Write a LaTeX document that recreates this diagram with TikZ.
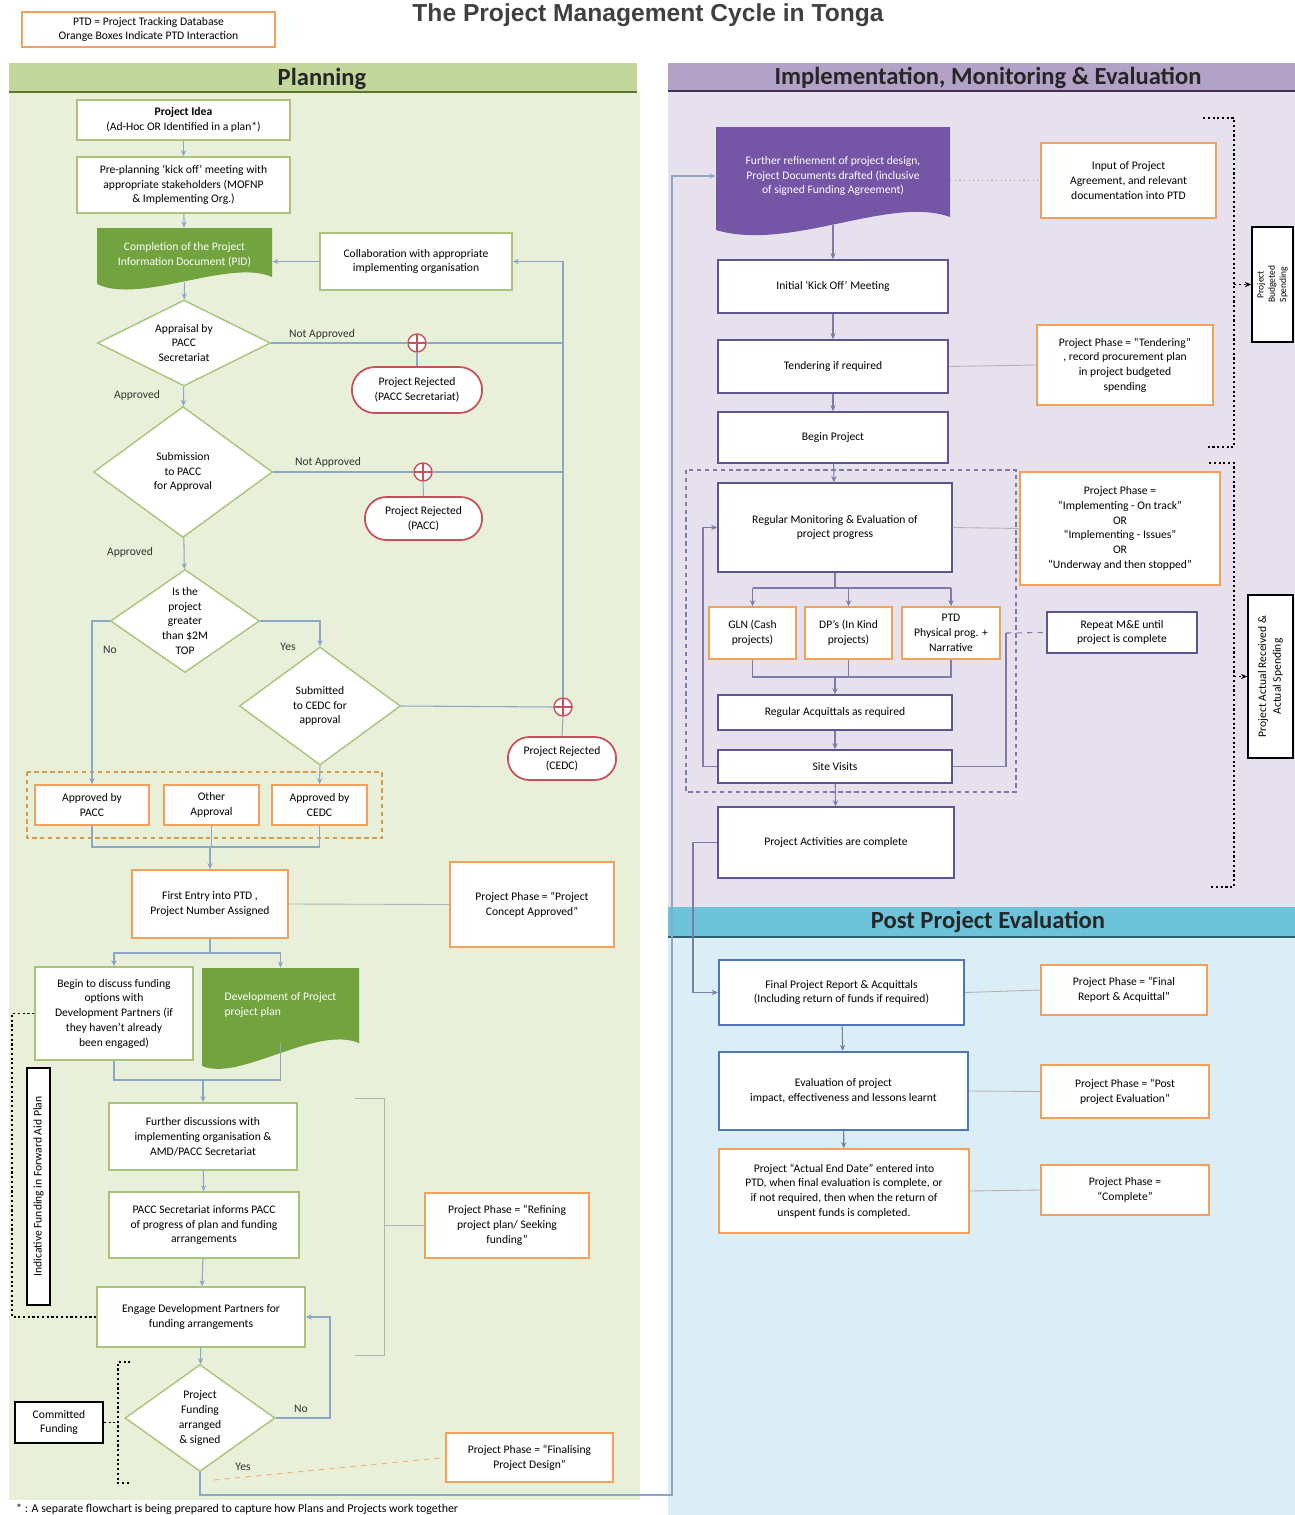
\documentclass[tikz,border=0pt]{standalone}
\usepackage{fontspec}
\setmainfont{Carlito}
\newfontfamily\titlefont{Liberation Sans}
\usetikzlibrary{shapes.geometric, shapes.misc, arrows.meta, positioning, calc}

\definecolor{plangreen}{HTML}{C3D69B}
\definecolor{planbg}{HTML}{E8F0DA}
\definecolor{planline}{HTML}{5E7530}
\definecolor{implpurple}{HTML}{B3A2C7}
\definecolor{implbg}{HTML}{E6E1ED}
\definecolor{implline}{HTML}{3F3151}
\definecolor{postcyan}{HTML}{6DC3DA}
\definecolor{postbg}{HTML}{DBEDF5}
\definecolor{postline}{HTML}{2B5F70}
\definecolor{boxgreen}{HTML}{A9C47A}
\definecolor{boxorange}{HTML}{F2A05A}
\definecolor{boxpurple}{HTML}{5E5590}
\definecolor{boxblue}{HTML}{4F76B8}
\definecolor{rejred}{HTML}{C8505A}
\definecolor{docgreen}{HTML}{72A33E}
\definecolor{docpurple}{HTML}{7455A6}
\definecolor{conn}{HTML}{8EA6C6}
\definecolor{connp}{HTML}{7C7CA8}
\definecolor{titlegray}{HTML}{404040}

\newcommand\boxfont{\fontsize{6.6}{8.4}\selectfont}
\newcommand\headfont{\fontsize{14}{16}\selectfont\bfseries}

\begin{document}
\begin{tikzpicture}[
  x=0.02cm, y=-0.02cm,
  sz/.style 2 args={minimum width=#1*0.02cm, minimum height=#2*0.02cm},
  gbox/.style={rectangle, draw=boxgreen, line width=0.8pt, fill=white,
               align=center, font=\boxfont, inner sep=2pt},
  obox/.style={gbox, draw=boxorange},
  pbox/.style={gbox, draw=boxpurple},
  bbox/.style={gbox, draw=boxblue, line width=1.3pt},
  kbox/.style={gbox, draw=black, line width=1pt},
  rej/.style={rounded rectangle, draw=rejred, line width=1pt, fill=white,
              align=center, font=\boxfont},
  dec/.style={diamond, draw=boxgreen, line width=0.8pt, fill=white,
              align=center, font=\boxfont, inner sep=0pt},
  plusc/.style={circle, draw=rejred, line width=0.8pt, fill=white,
                minimum size=0.36cm, inner sep=0pt,
                path picture={\draw[rejred, line width=0.8pt]
                  (path picture bounding box.north) -- (path picture bounding box.south)
                  (path picture bounding box.west) -- (path picture bounding box.east);}},
  doctext/.style={align=center, font=\boxfont, text=white, inner sep=0pt},
  hdr/.style={font=\headfont, text=black!85},
  lbl/.style={font=\boxfont, text=black!80},
  arr/.style={draw=conn, line width=0.6pt, -{Stealth[length=3.5pt,width=3pt]}},
  ln/.style={draw=conn, line width=0.6pt},
  parr/.style={arr, draw=connp},
  pln/.style={ln, draw=connp},
  phln/.style={draw=gray!60, line width=0.5pt},
  brk/.style={draw=black, line width=0.8pt, dash pattern=on 1.2pt off 1.5pt}
]

\useasboundingbox (0,0) rectangle (1295,1515);
\clip (0,0) rectangle (1295,1515);
\fill[white] (0,0) rectangle (1295,1515);

%% panels and header bands
\fill[planbg] (9,92) rectangle (640,1500);
\fill[plangreen] (9,63) rectangle (637,92);
\draw[planline, line width=1.2pt] (9,92) -- (637,92);
\fill[implbg] (668,91) rectangle (1295,907);
\fill[implpurple] (668,63) rectangle (1295,91);
\draw[implline, line width=1.2pt] (668,91) -- (1295,91);
\fill[postbg] (668,937) rectangle (1295,1515);
\fill[postcyan] (668,907) rectangle (1295,937);
\draw[postline, line width=1.2pt] (668,937) -- (1295,937);

%% title, legend, headers
\node[font=\titlefont\fontsize{14}{16}\selectfont\bfseries, text=titlegray] (title) at (648,15)
  {The Project Management Cycle in Tonga};
\node[obox, sz={253}{35}] (legend) at (148.5,29.5)
  {PTD = Project Tracking Database\\Orange Boxes Indicate PTD Interaction};
\node[hdr] (hplan) at (322,79) {Planning};
\node[hdr] (himpl) at (988,78) {Implementation, Monitoring \& Evaluation};
\node[hdr] (hpost) at (988,922) {Post Project Evaluation};

%% document shapes (filled first, text nodes on top)
\fill[docgreen] (97,228) -- (272,228) -- (272,277) .. controls (230,258) and (140,305) .. (97,284) -- cycle;
\fill[docgreen] (202,968) -- (359,968) -- (359,1043) .. controls (315,1025) and (240,1082) .. (202,1066) -- cycle;
\fill[docpurple] (716,127) -- (950,127) -- (950,217) .. controls (890,195) and (790,252) .. (716,230) -- cycle;

%% dashed groups
\draw[boxorange!80!olive, line width=0.7pt, dash pattern=on 2.5pt off 2pt] (27,772) rectangle (382,838);
\draw[connp, line width=0.8pt, dash pattern=on 2.5pt off 2pt] (686,470) rectangle (1016,792);

%% Planning nodes
\node[gbox, sz={213}{40}] (idea) at (183.5,120) {\textbf{Project Idea}\\(Ad-Hoc OR Identified in a plan*)};
\node[gbox, sz={213}{56}] (prep) at (183.5,185)
  {Pre-planning `kick off' meeting with\\appropriate stakeholders (MOFNP\\\& Implementing Org.)};
\node[doctext, sz={175}{54}] (pid) at (184.5,255) {Completion of the Project\\Information Document (PID)};
\node[gbox, sz={192}{57}] (collab) at (416,261.5) {Collaboration with appropriate\\implementing organisation};

\node[dec, aspect=2, sz={173}{86}] (d1) at (184,343) {Appraisal by\\PACC\\Secretariat};
\node[lbl] (na1) at (322,334) {Not Approved};
\node[plusc] (p1) at (417,343) {};
\node[rej, sz={142}{46}] (rej1) at (417,390) {Project Rejected\\(PACC Secretariat)};
\node[lbl] (ap1) at (137,395) {Approved};

\node[dec, aspect=1.5, sz={179}{131}] (d2) at (183,472) {Submission\\to PACC\\for Approval};
\node[lbl] (na2) at (328,462) {Not Approved};
\node[plusc] (p2) at (423,472) {};
\node[rej, sz={129}{43}] (rej2) at (423.5,518.5) {Project Rejected\\(PACC)};
\node[lbl] (ap2) at (130,552) {Approved};

\node[dec, aspect=1.4, sz={149}{103}] (d3) at (185,621) {Is the\\project\\greater\\than \$2M\\TOP};
\node[lbl] (no1) at (110,650) {No};
\node[lbl] (yes1) at (288,647) {Yes};
\node[dec, aspect=1.5, sz={161}{118}] (d4) at (320,706) {Submitted\\to CEDC for\\approval};
\node[plusc] (p3) at (563,707) {};
\node[rej, sz={120}{43}] (rej3) at (562,758.5) {Project Rejected\\(CEDC)};

\node[obox, sz={114}{40}] (apacc) at (92,805) {Approved by\\PACC};
\node[obox, sz={95}{40}] (aoth) at (211.5,805) {Other\\Approval};
\node[obox, sz={95}{40}] (acedc) at (319.5,805) {Approved by\\CEDC};
\coordinate (join1) at (210,847);

\node[obox, sz={156}{68}] (entry) at (210,904) {First Entry into PTD ,\\Project Number Assigned};
\node[obox, sz={164}{85}] (ph1) at (532,904.5) {Project Phase = ``Project\\Concept Approved''};
\coordinate (split1) at (210,953);

\node[gbox, sz={158}{93}] (begin) at (114,1013.5)
  {Begin to discuss funding\\options with\\Development Partners (if\\they haven't already\\been engaged)};
\node[doctext, align=left, sz={157}{74}] (devdoc) at (280.5,1005) {Development of Project\\project plan};
\coordinate (join2) at (203,1080);

\node[gbox, sz={188}{67}] (further) at (203,1136.5)
  {Further discussions with\\implementing organisation \&\\AMD/PACC Secretariat};
\node[gbox, sz={190}{66}] (informs) at (204,1225)
  {PACC Secretariat informs PACC\\of progress of plan and funding\\arrangements};
\node[gbox, sz={208}{60}] (engage) at (201,1317) {Engage Development Partners for\\funding arrangements};
\node[dec, aspect=1.4, sz={150}{107}] (d5) at (200,1418) {Project\\Funding\\arranged\\\& signed};
\node[lbl] (no2) at (301,1409) {No};
\node[lbl] (yes2) at (243,1467) {Yes};
\coordinate (nobend) at (330,1317);

\node[obox, sz={164}{65}] (refine) at (507,1225.5) {Project Phase = ``Refining\\project plan/ Seeking\\funding''};
\node[obox, sz={167}{49}] (finph) at (529.5,1457.5) {Project Phase = ``Finalising\\Project Design''};
\coordinate (rbtop) at (384,1098);
\coordinate (rbbot) at (384,1355);

\node[kbox, rotate=90, sz={237}{23}, inner sep=1pt] (indic) at (38.5,1186.5) {Indicative Funding in Forward Aid Plan};
\node[kbox, sz={88}{41}] (cfund) at (59,1422.5) {Committed\\Funding};
\coordinate (fwdbot) at (12,1317);
\coordinate (cftop) at (118,1362);
\coordinate (cfbot) at (118,1483);
\coordinate (finfrom) at (214,1480);
\coordinate (yesturn) at (672,1495);

\node[anchor=west, font=\fontsize{6.8}{8}\selectfont] (foot) at (10,1509)
  {* : A separate flowchart is being prepared to capture how Plans and Projects work together};

%% Implementation nodes
\node[doctext, sz={234}{98}] (impdoc) at (833,176)
  {Further refinement of project design,\\Project Documents drafted (inclusive\\of signed Funding Agreement)};
\node[obox, sz={175}{75}] (input) at (1128.5,180.5) {Input of Project\\Agreement, and relevant\\documentation into PTD};
\node[pbox, sz={230}{53}] (kick) at (833,286.5) {Initial `Kick Off' Meeting};
\node[pbox, sz={230}{53}] (tender) at (833,366.5) {Tendering if required};
\node[obox, sz={176}{80}] (tph) at (1125,365)
  {Project Phase = ``Tendering''\\, record procurement plan\\in project budgeted\\spending};
\node[pbox, sz={230}{51}] (beginp) at (833,437.5) {Begin Project};
\node[pbox, sz={234}{89}] (mon) at (835,527.5) {Regular Monitoring \& Evaluation of\\project progress};
\node[obox, sz={200}{113}] (mph) at (1120,528.5)
  {Project Phase =\\``Implementing - On track''\\OR\\``Implementing - Issues''\\OR\\``Underway and then stopped''};
\coordinate (split2) at (835,588);
\node[obox, sz={87}{52}] (gln) at (752.5,633) {GLN (Cash\\projects)};
\node[obox, sz={87}{52}] (dpk) at (848.5,633) {DP's (In Kind\\projects)};
\node[obox, sz={98}{52}] (ptdp) at (951,633) {PTD\\Physical prog. +\\Narrative};
\coordinate (join3) at (835,677);
\node[pbox, sz={234}{35}] (acq) at (835,712.5) {Regular Acquittals as required};
\node[pbox, sz={234}{33}] (site) at (835,766.5) {Site Visits};
\node[pbox, sz={150}{41}] (repeat) at (1122,632.5) {Repeat M\&E until\\project is complete};
\coordinate (rpj) at (1006,633);
\coordinate (loopl) at (703,650);
\node[pbox, sz={236}{71}] (acts) at (836,842.5) {Project Activities are complete};
\coordinate (loopa) at (693,900);

\node[kbox, rotate=90, sz={115}{41}, inner sep=1pt, font=\fontsize{5.4}{6.4}\selectfont] (budget) at (1272.5,284.5)
  {Project\\Budgeted\\Spending};
\node[kbox, rotate=90, sz={163}{45}, inner sep=1pt] (actual) at (1270.5,676.5)
  {Project Actual Received \&\\Actual Spending};
\coordinate (bk1t) at (1234,118);
\coordinate (bk1b) at (1234,447);
\coordinate (bk2t) at (1234,463);
\coordinate (bk2b) at (1234,887);

%% Post project nodes
\node[bbox, sz={245}{65}] (final) at (841.5,992.5) {Final Project Report \& Acquittals\\(Including return of funds if required)};
\node[obox, sz={166}{50}] (fph) at (1124,990) {Project Phase = ``Final\\Report \& Acquittal''};
\node[bbox, sz={249}{78}] (eval) at (843.5,1091) {Evaluation of project\\impact, effectiveness and lessons learnt};
\node[obox, sz={168}{53}] (eph) at (1125,1091.5) {Project Phase = ``Post\\project Evaluation''};
\node[obox, sz={250}{84}] (enddate) at (844,1191)
  {Project ``Actual End Date'' entered into\\PTD, when final evaluation is complete, or\\if not required, then when the return of\\unspent funds is completed.};
\node[obox, sz={168}{50}] (cph) at (1125,1190) {Project Phase =\\``Complete''};

%% Planning connectors
\draw[arr] (idea) -- (prep);
\draw[arr] (prep) -- (pid);
\draw[arr] (pid) -- (d1);
\draw[arr] (collab.west) -- (collab.west -| pid.east);
\draw[ln] (d1.east) -- (p1.west);
\draw[ln] (p1.east) -- (p1.east -| p3);
\draw[ln] (p1.south) -- (rej1.north);
\draw[ln] (d2.east) -- (p2.west);
\draw[ln] (p2.east) -- (p2.east -| p3);
\draw[ln] (p2.south) -- (rej2.north);
\draw[ln] (d4.east) -- (p3.west);
\draw[ln] (p3.south) -- (rej3.north);
\draw[arr] (p3.north) -- (p3 |- collab.east) -- (collab.east);
\draw[arr] (d1) -- (d2);
\draw[arr] (d2) -- (d3);
\draw[arr] (d3.west) -| (apacc.north);
\draw[arr] (d3.east) -| (d4.north);
\draw[arr] (d4.south) -- (acedc.north);
\draw[ln] (apacc.south) |- (acedc.south |- join1) -- (acedc.south);
\draw[ln] (aoth.south) -- (aoth.south |- join1);
\draw[arr] (join1) -- (entry.north);
\draw[phln] (entry.east) -- (ph1.west);
\draw[ln] (entry.south) -- (split1);
\draw[arr] (split1) -| (begin.north);
\draw[arr] (split1) -| (devdoc.north);
\draw[ln] (begin.south) |- (join2);
\draw[ln] (devdoc.south) |- (join2);
\draw[arr] (join2) -- (further.north);
\draw[arr] (further) -- (informs);
\draw[arr] (informs) -- (engage);
\draw[arr] (engage) -- (d5);
\draw[arr] (d5.east) -| (nobend) -- (engage.east);
\draw[arr] (d5.south) |- (yesturn) |- (impdoc.west);
\draw[phln] ([xshift=-0.58cm]rbtop) -- (rbtop) -- (rbbot) -- ([xshift=-0.58cm]rbbot);
\draw[phln] (refine.west -| rbtop) -- (refine.west);
\draw[boxorange!80, line width=0.6pt, dashed] (finfrom) -- (finph.west);
\draw[brk] (begin.west) -| (fwdbot) -- (engage.west);
\draw[brk] ([xshift=0.25cm]cftop) -- (cftop) -- (cfbot) -- ([xshift=0.25cm]cfbot);
\draw[brk] (cfund.east) -- (cfund.east -| cftop);

%% Implementation connectors
\draw[gray!70, line width=0.6pt, dotted] (input.west -| impdoc.east) -- (input.west);
\draw[parr] (impdoc.south) -- (kick.north);
\draw[parr] (kick) -- (tender);
\draw[parr] (tender) -- (beginp);
\draw[parr] (beginp) -- (mon);
\draw[phln] (tender.east) -- (tph.west);
\draw[phln] (mon.east) -- (mph.west);
\draw[pln] (mon.south) -- (split2);
\draw[pln] (gln.north |- split2) -- (ptdp.north |- split2);
\draw[parr] (gln.north |- split2) -- (gln.north);
\draw[parr] (dpk.north |- split2) -- (dpk.north);
\draw[parr] (ptdp.north |- split2) -- (ptdp.north);
\draw[pln] (gln.south) |- (ptdp.south |- join3) -- (ptdp.south);
\draw[pln] (dpk.south) -- (dpk.south |- join3);
\draw[parr] (join3) -- (acq.north);
\draw[parr] (acq) -- (site);
\draw[parr] (site.west) -| (loopl) |- (mon.west);
\draw[pln] (site.east) -| (rpj);
\draw[connp, line width=0.6pt, dashed] (rpj) -- (repeat.west);
\draw[parr] (site) -- (acts);
\draw[parr] (acts.west) -| (loopa) |- (final.west);
\draw[brk] ([xshift=-0.62cm]bk1t) -- (bk1t) -- (bk1b) -- ([xshift=-0.54cm]bk1b);
\draw[brk, -{Stealth[length=3.5pt,width=3pt]}] (budget.north -| bk1t) -- (budget.north);
\draw[brk] ([xshift=-0.5cm]bk2t) -- (bk2t) -- (bk2b) -- ([xshift=-0.5cm]bk2b);
\draw[brk, -{Stealth[length=3.5pt,width=3pt]}] (actual.north -| bk2t) -- (actual.north);

%% Post project connectors
\draw[parr] (final) -- (eval);
\draw[parr] (eval) -- (enddate);
\draw[phln] (final.east) -- (fph.west);
\draw[phln] (eval.east) -- (eph.west);
\draw[phln] (enddate.east) -- (cph.west);

\end{tikzpicture}
\end{document}
